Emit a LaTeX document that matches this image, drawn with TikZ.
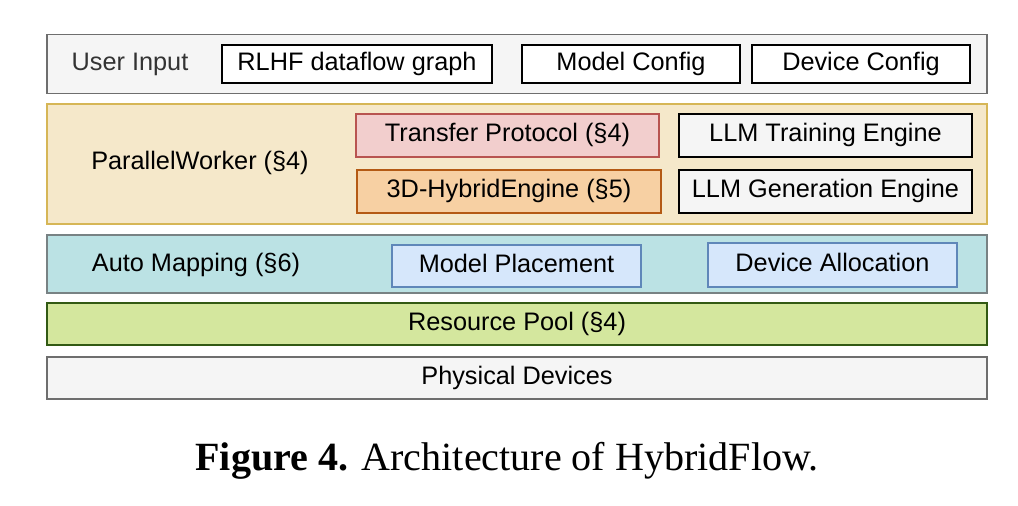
\documentclass[tikz,border=0pt]{standalone}
\usepackage{fontspec}
\setmainfont{Liberation Serif}
\newfontfamily\archfont{Liberation Sans}
\usepackage{tikz}
\usetikzlibrary{positioning}
\usepackage{xcolor}
\definecolor{lyrgray}{RGB}{245,245,245}
\definecolor{lyrline}{RGB}{110,110,110}
\definecolor{pwfill}{RGB}{245,232,202}
\definecolor{pwline}{RGB}{214,182,86}
\definecolor{tpfill}{RGB}{242,206,205}
\definecolor{tpline}{RGB}{184,84,80}
\definecolor{hefill}{RGB}{247,208,163}
\definecolor{heline}{RGB}{180,90,20}
\definecolor{amfill}{RGB}{187,226,228}
\definecolor{amline}{RGB}{120,130,132}
\definecolor{mpfill}{RGB}{214,231,251}
\definecolor{mpline}{RGB}{95,135,185}
\definecolor{rpfill}{RGB}{212,231,158}
\definecolor{rpline}{RGB}{50,90,20}
\begin{document}
\begin{tikzpicture}[x=0.02cm,y=-0.02cm,
  font=\archfont\fontsize{14.4}{16}\selectfont,
  every node/.style={text height=0.74em,text depth=0pt},
  layer/.style={draw=lyrline,line width=0.9pt,minimum width=18.8cm,inner sep=0pt},
  part/.style={draw=black,line width=1pt,fill=white,inner sep=0pt,minimum height=0.76cm}]
\useasboundingbox (0,0) rectangle (1018,506);
\node[layer,fill=lyrgray,minimum height=1.18cm] (userin) at (517,64) {};
\node[text=black!80] (uitext) at (130,64) {User Input};
\node[part,minimum width=5.4cm] (rlhf) at (357,64) {RLHF dataflow graph};
\node[part,minimum width=4.36cm] (mcfg) at (631,64) {Model Config};
\node[part,minimum width=4.36cm] (dcfg) at (861,64) {Device Config};
\node[layer,draw=pwline,fill=pwfill,minimum height=2.4cm] (pworker) at (517,164) {};
\node (pwtext) at (200,163) {ParallelWorker (\S4)};
\node[part,draw=tpline,fill=tpfill,minimum width=6.06cm,minimum height=0.86cm] (transfer) at (507.5,135.5) {Transfer Protocol (\S4)};
\node[part,draw=heline,fill=hefill,minimum width=6.08cm,minimum height=0.86cm] (hybrid) at (509,191.5) {3D-HybridEngine (\S5)};
\node[part,fill=lyrgray,minimum width=5.86cm,minimum height=0.86cm] (train) at (825.5,135.5) {LLM Training Engine};
\node[part,fill=lyrgray,minimum width=5.86cm,minimum height=0.86cm] (gen) at (825.5,191.5) {LLM Generation Engine};
\node[layer,draw=amline,fill=amfill,minimum height=1.16cm] (automap) at (517,264) {};
\node (amtext) at (196,265) {Auto Mapping (\S6)};
\node[part,draw=mpline,fill=mpfill,minimum width=4.98cm,minimum height=0.84cm] (place) at (516.5,266) {Model Placement};
\node[part,draw=mpline,fill=mpfill,minimum width=4.98cm,minimum height=0.88cm] (alloc) at (832.5,265) {Device Allocation};
\node[layer,draw=rpline,fill=rpfill,minimum height=0.84cm] (pool) at (517,324) {Resource Pool (\S4)};
\node[layer,fill=lyrgray,minimum height=0.84cm] (phys) at (517,378) {Physical Devices};
\node[font=\rmfamily\fontsize{22.8}{26}\selectfont] (caption) at (507,464) {\textbf{Figure 4.} Architecture of HybridFlow.};
\end{tikzpicture}
\end{document}
